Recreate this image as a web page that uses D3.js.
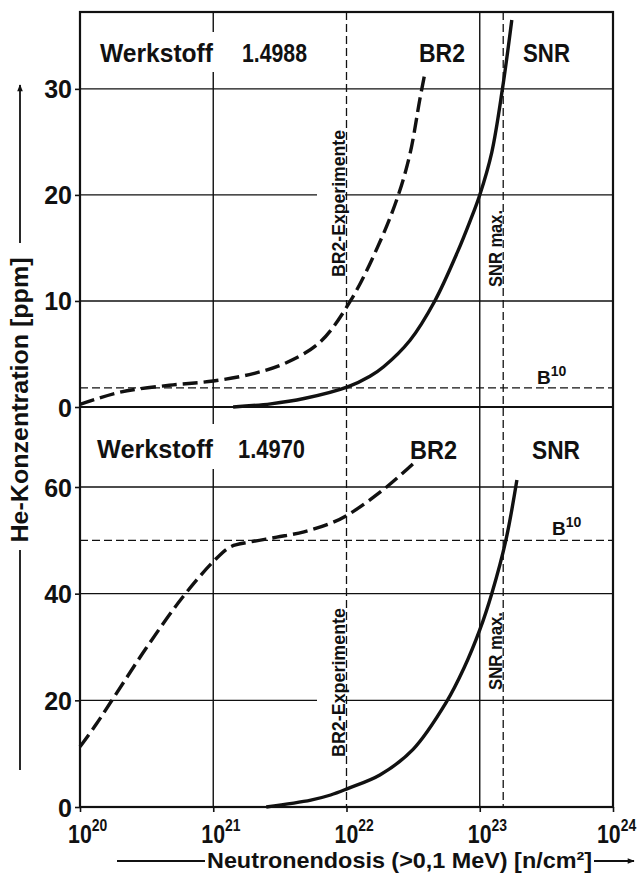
<!DOCTYPE html>
<html><head><meta charset="utf-8">
<script src="https://cdn.jsdelivr.net/npm/d3@7"></script>
<style>
body{margin:0;background:#fff}
svg{display:block}
text{font-family:"Liberation Sans",Arial,Helvetica,sans-serif;fill:#111;font-weight:bold}
</style>
</head><body>
<svg id="c" width="638" height="875"></svg>
<script>
// ---------- data ----------
const xTicks = [1e20, 1e21, 1e22, 1e23, 1e24];
const xTickExp = ["20", "21", "22", "23", "24"];
const topTicks = [0, 10, 20, 30];
const botTicks = [0, 20, 40, 60];

// Werkstoff 1.4988 (upper panel)
const topBR2Dose = [1e20, 2e20, 4.7e20, 1e21, 2e21, 3.5e21, 6.3e21, 1.07e22, 1.8e22, 2.45e22, 3.0e22, 3.55e22, 3.85e22];
const topBR2Ppm  = [0.25, 1.4, 2.05, 2.45, 3.15, 4.15, 6.1, 10, 15.7, 20, 23.9, 29.0, 31.3];
const topSNRDose = [1.41e21, 2.7e21, 4.8e21, 1.02e22, 1.5e22, 1.9e22, 3.0e22, 4.6e22, 6.8e22, 8.5e22, 1e23, 1.23e23, 1.48e23, 1.74e23];
const topSNRPpm  = [0, 0.3, 0.8, 1.9, 2.9, 3.8, 6.3, 10, 14.6, 17.6, 20, 24.0, 30, 36.5];

// Werkstoff 1.4970 (lower panel)
const botBR2Dose = [1e20, 1.33e20, 1.82e20, 3.16e20, 5.75e20, 1e21, 1.35e21, 1.9e21, 3.0e21, 4.8e21, 7.6e21, 1.02e22, 2.0e22, 3.4e22];
const botBR2Ppm  = [11.3, 15.6, 20.8, 29.9, 39.0, 46.0, 48.8, 49.7, 50.6, 51.6, 53.2, 54.75, 60, 65.1];
const botSNRDose = [2.5e21, 5.4e21, 7.6e21, 1.02e22, 1.78e22, 3.16e22, 5.6e22, 7.6e22, 1e23, 1.23e23, 1.57e23, 1.9e23];
const botSNRPpm  = [0, 1.3, 2.25, 3.45, 6.0, 10.8, 19.6, 26.0, 33.2, 40, 50, 61.3];

const refBR2Exp = 1e22;     // BR2-Experimente
const refSNRmax = 1.5e23;   // SNR max.
const b10Top = 1.8;
const b10Bot = 50;

// ---------- layout ----------
const svg = d3.select("#c");
const L = 80, R = 613, T = 12, M = 407, B = 807;
const x = d3.scaleLog().domain([1e20, 1e24]).range([L, R]);
const yTop = d3.scaleLinear().domain([0, 37.25]).range([M, T]);
const yBot = d3.scaleLinear().domain([0, 75]).range([B, M]);

svg.append("rect").attr("width", 638).attr("height", 875).attr("fill", "#fff");

const g = svg.append("g");
const ink = "#111";

// grid lines
[1e21, 1e23].forEach(v => {
  g.append("line").attr("x1", x(v)).attr("x2", x(v)).attr("y1", T).attr("y2", B)
   .attr("stroke", ink).attr("stroke-width", 1.4);
});
topTicks.filter(v => v > 0).forEach(v => {
  g.append("line").attr("x1", L).attr("x2", R).attr("y1", yTop(v)).attr("y2", yTop(v))
   .attr("stroke", ink).attr("stroke-width", 1.4);
});
botTicks.filter(v => v > 0).forEach(v => {
  g.append("line").attr("x1", L).attr("x2", R).attr("y1", yBot(v)).attr("y2", yBot(v))
   .attr("stroke", ink).attr("stroke-width", 1.4);
});
// panel separator (top panel zero line)
g.append("line").attr("x1", L).attr("x2", R).attr("y1", yTop(0)).attr("y2", yTop(0))
 .attr("stroke", ink).attr("stroke-width", 2);

// white backgrounds behind labels (interrupt grid lines like the original)
const bg = svg.append("g").attr("fill", "#fff");
bg.append("rect").attr("x", 95).attr("y", 32).attr("width", 215).attr("height", 40);
bg.append("rect").attr("x", 95).attr("y", 424).attr("width", 215).attr("height", 45);
bg.append("rect").attr("x", 317).attr("y", yTop(30) + 42).attr("width", 28).attr("height", 150);
bg.append("rect").attr("x", 317).attr("y", yBot(38)).attr("width", 28).attr("height", 152);

// reference dashed lines
const ref = svg.append("g").attr("stroke", ink).attr("stroke-width", 1.3).attr("stroke-dasharray", "8,4").attr("fill", "none");
[refBR2Exp, refSNRmax].forEach(v => {
  ref.append("line").attr("x1", x(v)).attr("x2", x(v)).attr("y1", T).attr("y2", B);
});
ref.append("line").attr("x1", L).attr("x2", R).attr("y1", yTop(b10Top)).attr("y2", yTop(b10Top));
ref.append("line").attr("x1", L).attr("x2", R).attr("y1", yBot(b10Bot)).attr("y2", yBot(b10Bot));

// curves
function curve(dose, ppm, yS, dashed) {
  const line = d3.line().x(d => x(d[0])).y(d => yS(d[1])).curve(d3.curveCatmullRom.alpha(0.5));
  const p = svg.append("path").attr("d", line(d3.zip(dose, ppm)))
    .attr("fill", "none").attr("stroke", ink).attr("stroke-width", 3.4)
    .attr("stroke-linecap", "butt").attr("stroke-linejoin", "round");
  if (dashed) p.attr("stroke-dasharray", "15,6");
}
curve(topBR2Dose, topBR2Ppm, yTop, true);
curve(topSNRDose, topSNRPpm, yTop, false);
curve(botBR2Dose, botBR2Ppm, yBot, true);
curve(botSNRDose, botSNRPpm, yBot, false);

// axes (tick marks + labels)
const axTop = d3.axisLeft(yTop).tickValues(topTicks).tickSize(5).tickPadding(3).tickFormat(d3.format("d"));
const axBot = d3.axisLeft(yBot).tickValues(botTicks).tickSize(5).tickPadding(3).tickFormat(d3.format("d"));
[axTop, axBot].forEach(axis => {
  const a = svg.append("g").attr("transform", `translate(${L},0)`).call(axis);
  a.select(".domain").remove();
  a.selectAll("line").attr("stroke", ink).attr("stroke-width", 1.6);
  a.selectAll("text").attr("font-size", 25).attr("font-family", "Liberation Sans, Arial, sans-serif")
   .attr("font-weight", "bold").attr("fill", ink).attr("dy", "0.36em");
});
const axX = d3.axisBottom(x).tickValues(xTicks).tickSize(5).tickFormat("");
const ax = svg.append("g").attr("transform", `translate(0,${B})`).call(axX);
ax.select(".domain").remove();
ax.selectAll("line").attr("stroke", ink).attr("stroke-width", 1.6);
// x tick labels: "10" with superscript exponent, condensed horizontally like the original font
const sx = 0.82;
xTicks.forEach((t, i) => {
  const start = Math.min(x(t) - 11.9, 597);
  const tx = svg.append("text")
    .attr("transform", `translate(${start},843) scale(${sx},1)`)
    .attr("x", 0).attr("y", 0).attr("font-size", 26);
  tx.append("tspan").text("10");
  tx.append("tspan").attr("dy", -12).attr("font-size", 17).text(xTickExp[i]);
});

// frame
svg.append("rect").attr("x", L).attr("y", T).attr("width", R - L).attr("height", B - T)
  .attr("fill", "none").attr("stroke", ink).attr("stroke-width", 2.2);

// panel labels
function lab(t, xx, yy, size, len) {
  const e = svg.append("text").attr("x", xx).attr("y", yy).attr("font-size", size).text(t);
  if (len) e.attr("textLength", len).attr("lengthAdjust", "spacingAndGlyphs");
  return e;
}
lab("Werkstoff", 100, 62, 25, 113);
lab("1.4988", 242, 62, 25, 65);
lab("BR2", 419, 62, 25, 46);
lab("SNR", 523, 62, 25, 47);
lab("Werkstoff", 97, 458, 25, 116);
lab("1.4970", 238, 458, 25, 67);
lab("BR2", 410, 459, 25, 47);
lab("SNR", 532, 459, 25, 48);

// B10 labels
function b10(xx, yy) {
  const t = svg.append("text").attr("x", xx).attr("y", yy).attr("font-size", 19);
  t.append("tspan").text("B");
  t.append("tspan").attr("dy", -8).attr("font-size", 14).text("10");
}
b10(537, yTop(b10Top) - 4);
b10(552, yBot(b10Bot) - 5);

// rotated reference labels
function vlab(t, xx, yy, size, len) {
  svg.append("text").attr("transform", `translate(${xx},${yy}) rotate(-90)`)
    .attr("text-anchor", "middle").attr("font-size", size)
    .attr("textLength", len).attr("lengthAdjust", "spacingAndGlyphs").text(t);
}
vlab("BR2-Experimente", 345, 203.5, 19, 147);
vlab("BR2-Experimente", 345, 682.5, 19, 149);
vlab("SNR max.", 501.5, 248.5, 19, 77);
vlab("SNR max.", 501.5, 651, 19, 78);

// axis titles
const defs = svg.append("defs");
defs.append("marker").attr("id", "ah").attr("viewBox", "0 0 10 10").attr("refX", 9).attr("refY", 5)
  .attr("markerWidth", 9).attr("markerHeight", 7).attr("markerUnits", "userSpaceOnUse")
  .attr("orient", "auto").append("path").attr("d", "M0,1 L10,5 L0,9 Z").attr("fill", ink);

svg.append("text").attr("transform", "translate(28,400) rotate(-90)").attr("text-anchor", "middle")
  .attr("font-size", 24).attr("textLength", 285).attr("lengthAdjust", "spacingAndGlyphs")
  .text("He-Konzentration [ppm]");
svg.append("line").attr("x1", 20).attr("x2", 20).attr("y1", 243).attr("y2", 85)
  .attr("stroke", ink).attr("stroke-width", 1.8).attr("marker-end", "url(#ah)");
svg.append("line").attr("x1", 20).attr("x2", 20).attr("y1", 550).attr("y2", 770)
  .attr("stroke", ink).attr("stroke-width", 1.8);

svg.append("text").attr("x", 207).attr("y", 868).attr("font-size", 22)
  .attr("textLength", 385).attr("lengthAdjust", "spacingAndGlyphs")
  .text("Neutronendosis (>0,1 MeV) [n/cm²]");
svg.append("line").attr("x1", 117).attr("x2", 205).attr("y1", 861).attr("y2", 861)
  .attr("stroke", ink).attr("stroke-width", 1.8);
svg.append("line").attr("x1", 594).attr("x2", 634).attr("y1", 861).attr("y2", 861)
  .attr("stroke", ink).attr("stroke-width", 1.8).attr("marker-end", "url(#ah)");
</script>
</body></html>
